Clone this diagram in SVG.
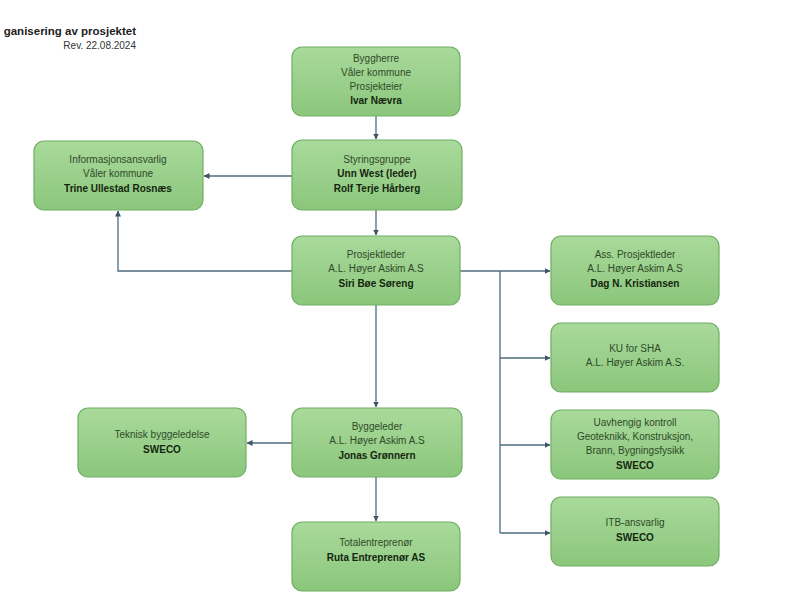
<svg xmlns="http://www.w3.org/2000/svg" width="800" height="600" viewBox="0 0 800 600">
<defs>
<linearGradient id="g" x1="0" y1="0" x2="0" y2="1">
<stop offset="0" stop-color="#a9da9b"/>
<stop offset="1" stop-color="#8bc67c"/>
</linearGradient>
<marker id="arr" viewBox="0 0 6 6" refX="5.5" refY="3" markerWidth="6" markerHeight="6" orient="auto" markerUnits="userSpaceOnUse">
<path d="M0,0 L6,3 L0,6 z" fill="#3d5566"/>
</marker>
<style>
.box{fill:url(#g);stroke:#6fae63;stroke-width:1.2}
text{font-family:"Liberation Sans",Arial,sans-serif;font-size:10px;fill:#2e4a28;text-anchor:middle}
.b{font-weight:bold;fill:#15260f}
.c{fill:none;stroke:#4f6b7d;stroke-width:1.3}
.t{text-anchor:end;fill:#333}
.title{font-size:11.5px}
</style>
</defs>
<rect width="800" height="600" fill="#ffffff"/>
<text class="t b title" x="136" y="35" style="fill:#222">ganisering av prosjektet</text>
<text class="t" x="136" y="49">Rev. 22.08.2024</text>

<g id="connectors">
<path class="c" d="M376,116 V139" marker-end="url(#arr)"/>
<path class="c" d="M292,176 H204" marker-end="url(#arr)"/>
<path class="c" d="M376,210 V235" marker-end="url(#arr)"/>
<path class="c" d="M292,271 H118 V211" marker-end="url(#arr)"/>
<path class="c" d="M460,271 H550" marker-end="url(#arr)"/>
<path class="c" d="M500,271 V533"/>
<path class="c" d="M500,358 H550" marker-end="url(#arr)"/>
<path class="c" d="M500,445 H550" marker-end="url(#arr)"/>
<path class="c" d="M500,533 H550" marker-end="url(#arr)"/>
<path class="c" d="M376,305 V407" marker-end="url(#arr)"/>
<path class="c" d="M292,443 H247" marker-end="url(#arr)"/>
<path class="c" d="M376,477 V521" marker-end="url(#arr)"/>
</g>

<g id="byggherre">
<rect class="box" x="292" y="47" width="168" height="69" rx="10"/>
<text x="376" y="62">Byggherre</text>
<text x="376" y="76">Våler kommune</text>
<text x="376" y="90">Prosjekteier</text>
<text class="b" x="376" y="104">Ivar Nævra</text>
</g>

<g id="styringsgruppe">
<rect class="box" x="292" y="140" width="170" height="70" rx="10"/>
<text x="377" y="163">Styringsgruppe</text>
<text class="b" x="377" y="177">Unn West (leder)</text>
<text class="b" x="377" y="192">Rolf Terje Hårberg</text>
</g>

<g id="informasjon">
<rect class="box" x="34" y="141" width="169" height="69" rx="10"/>
<text x="118" y="163">Informasjonsansvarlig</text>
<text x="118" y="177">Våler kommune</text>
<text class="b" x="118" y="192">Trine Ullestad Rosnæs</text>
</g>

<g id="prosjektleder">
<rect class="box" x="292" y="236" width="168" height="69" rx="10"/>
<text x="376" y="258">Prosjektleder</text>
<text x="376" y="272">A.L. Høyer Askim A.S</text>
<text class="b" x="376" y="287">Siri Bøe Søreng</text>
</g>

<g id="ass-prosjektleder">
<rect class="box" x="551" y="236" width="168" height="69" rx="10"/>
<text x="635" y="258">Ass. Prosjektleder</text>
<text x="635" y="272">A.L. Høyer Askim A.S</text>
<text class="b" x="635" y="287">Dag N. Kristiansen</text>
</g>

<g id="ku-sha">
<rect class="box" x="551" y="323" width="168" height="69" rx="10"/>
<text x="635" y="352">KU for SHA</text>
<text x="635" y="366">A.L. Høyer Askim A.S.</text>
</g>

<g id="uavhengig-kontroll">
<rect class="box" x="551" y="410" width="168" height="69" rx="10"/>
<text x="635" y="426">Uavhengig kontroll</text>
<text x="635" y="440">Geoteknikk, Konstruksjon,</text>
<text x="635" y="454">Brann, Bygningsfysikk</text>
<text class="b" x="635" y="469">SWECO</text>
</g>

<g id="itb">
<rect class="box" x="551" y="497" width="168" height="69" rx="10"/>
<text x="635" y="526">ITB-ansvarlig</text>
<text class="b" x="635" y="541">SWECO</text>
</g>

<g id="teknisk">
<rect class="box" x="78" y="408" width="168" height="69" rx="10"/>
<text x="162" y="438">Teknisk byggeledelse</text>
<text class="b" x="162" y="453">SWECO</text>
</g>

<g id="byggeleder">
<rect class="box" x="292" y="408" width="170" height="69" rx="10"/>
<text x="377" y="430">Byggeleder</text>
<text x="377" y="444">A.L. Høyer Askim A.S</text>
<text class="b" x="377" y="459">Jonas Grønnern</text>
</g>

<g id="totalentreprenor">
<rect class="box" x="292" y="522" width="168" height="69" rx="10"/>
<text x="376" y="546">Totalentreprenør</text>
<text class="b" x="376" y="561">Ruta Entreprenør AS</text>
</g>
</svg>
